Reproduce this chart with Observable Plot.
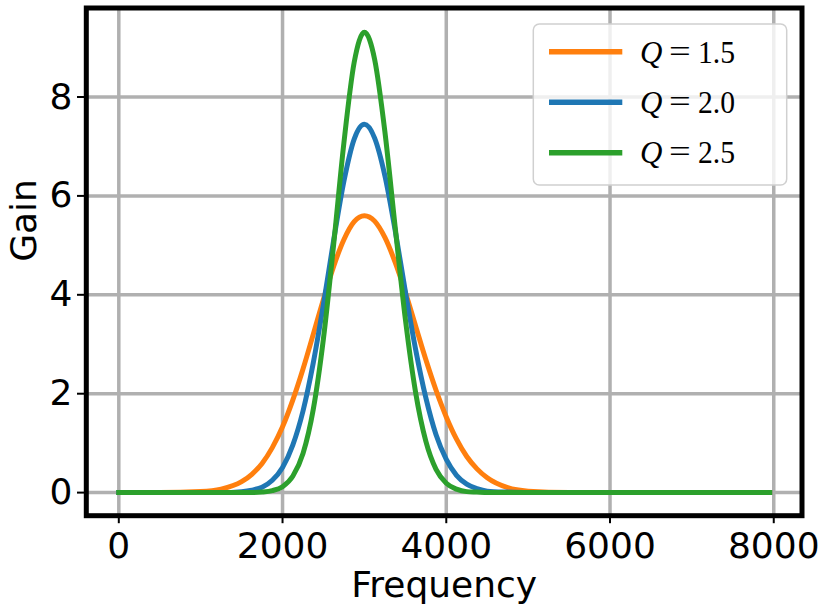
<!DOCTYPE html>
<html><head><meta charset="utf-8">
<script src="https://cdn.jsdelivr.net/npm/d3@7"></script>
<script src="https://cdn.jsdelivr.net/npm/@observablehq/plot@0.6"></script>
<style>html,body{margin:0;padding:0;background:#fff;} #chart{width:822px;height:612px;overflow:hidden}</style>
</head><body><div id="chart"></div>
<script>
const frequency = [0, 500, 1000, 1250, 1500, 1625, 1750, 1875, 2000, 2125, 2250, 2375, 2500, 2625, 2750, 2875, 3000, 3125, 3250, 3375, 3500, 3625, 3750, 3875, 4000, 4125, 4250, 4375, 4500, 4750, 5000, 5500, 6000, 7000, 7950];
const gainQ15 = [0, 0, 0.02, 0.07, 0.22, 0.37, 0.59, 0.91, 1.33, 1.87, 2.50, 3.20, 3.91, 4.58, 5.12, 5.48, 5.60, 5.49, 5.16, 4.66, 4.05, 3.37, 2.69, 2.07, 1.53, 1.08, 0.73, 0.48, 0.30, 0.10, 0.03, 0, 0, 0, 0];
const gainQ20 = [0, 0, 0, 0, 0.02, 0.05, 0.11, 0.25, 0.51, 0.96, 1.65, 2.62, 3.81, 5.11, 6.30, 7.15, 7.45, 7.17, 6.41, 5.31, 4.07, 2.90, 1.92, 1.17, 0.67, 0.35, 0.17, 0.08, 0.03, 0.01, 0, 0, 0, 0, 0];
const gainQ25 = [0, 0, 0, 0, 0, 0, 0.01, 0.04, 0.12, 0.33, 0.79, 1.68, 3.12, 5.03, 7.08, 8.70, 9.31, 8.76, 7.30, 5.38, 3.51, 2.03, 1.04, 0.47, 0.19, 0.07, 0.02, 0.01, 0, 0, 0, 0, 0, 0, 0];
const seriesNames = ["Q=1.5", "Q=2.0", "Q=2.5"];
const legendValues = ["1.5", "2.0", "2.5"];
const seriesColors = ["#ff7f0e", "#1f77b4", "#2ca02c"];
const xTicks = [0, 2000, 4000, 6000, 8000];
const yTicks = [0, 2, 4, 6, 8];
const xLabel = "Frequency";
const yLabel = "Gain";

const seriesGains = [gainQ15, gainQ20, gainQ25];
const rows = seriesGains.flatMap((g, i) => frequency.map((f, j) => ({f, g: g[j], s: seriesNames[i]})));

const W = 822, H = 612, mL = 85.8, mR = 20.5, mT = 7.5, mB = 96.8;
const chart = Plot.plot({
  width: W, height: H,
  marginLeft: mL, marginRight: mR, marginTop: mT, marginBottom: mB,
  style: {fontFamily: "'DejaVu Sans', sans-serif", background: "white", color: "black", overflow: "visible"},
  x: {domain: [-397, 8345]},
  y: {domain: [-0.467, 9.80]},
  color: {domain: seriesNames, range: seriesColors},
  marks: [
    Plot.gridX(xTicks, {stroke: "#b0b0b0", strokeOpacity: 1, strokeWidth: 3.5}),
    Plot.gridY(yTicks, {stroke: "#b0b0b0", strokeOpacity: 1, strokeWidth: 3.5}),
    Plot.line(rows, {x: "f", y: "g", z: "s", stroke: "s", strokeWidth: 5, curve: "monotone-x", strokeLinecap: "square", strokeLinejoin: "round"}),
    Plot.axisX(xTicks, {anchor: "bottom", tickSize: 8, tickPadding: 9, fontSize: 36, strokeWidth: 2, label: null, tickFormat: d3.format("d")}),
    Plot.axisY(yTicks, {anchor: "left", tickSize: 8.8, tickPadding: 5, fontSize: 36, strokeWidth: 2, label: null, tickFormat: d3.format("d")}),
    Plot.text([xLabel], {frameAnchor: "bottom", dy: 81.5, lineAnchor: "bottom", fontSize: 36}),
    Plot.text([yLabel], {frameAnchor: "left", rotate: -90, dx: -50.3, lineAnchor: "bottom", fontSize: 36}),
    Plot.frame({stroke: "black", strokeWidth: 5})
  ]
});
document.getElementById("chart").appendChild(chart);

// legend
const svg = d3.select(chart);
const lg = svg.append("g");
lg.append("rect")
  .attr("x", 533.3).attr("y", 24).attr("width", 253.4).attr("height", 161)
  .attr("rx", 6).attr("fill", "white").attr("fill-opacity", 0.8)
  .attr("stroke", "#d0d0d0").attr("stroke-width", 1.5);
legendValues.forEach((v, i) => {
  const ly = 51.7 + i * 50.5;
  const by = 63.3 + i * 49.7;
  lg.append("line").attr("x1", 549).attr("x2", 622.3).attr("y1", ly).attr("y2", ly)
    .attr("stroke", seriesColors[i]).attr("stroke-width", 5.5);
  const t = lg.append("g").attr("font-family", "'Liberation Serif', serif").attr("font-size", 31)
    .attr("fill", "black").attr("text-anchor", "start");
  t.append("text").attr("x", 640).attr("y", by).attr("font-style", "italic").text("Q");
  t.append("text").attr("x", 669).attr("y", by - 1).attr("textLength", 21.7).attr("lengthAdjust", "spacingAndGlyphs").text("=");
  t.append("text").attr("x", 698).attr("y", by).attr("textLength", 37).attr("lengthAdjust", "spacingAndGlyphs").text(v);
});
</script>
</body></html>
